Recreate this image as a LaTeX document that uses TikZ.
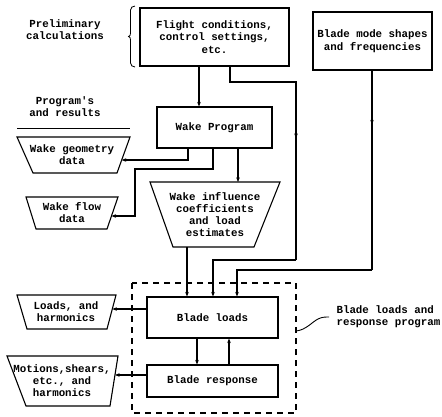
\documentclass[tikz,border=0pt]{standalone}
\usepackage{fontspec}
\setmonofont{Liberation Mono}
\usetikzlibrary{arrows.meta,decorations.markings}
\begin{document}
\begin{tikzpicture}[x=1pt,y=-1pt,line width=1.1pt,
  txt/.style={font=\ttfamily\bfseries\fontsize{10.8}{12}\selectfont,align=center,inner sep=0pt},
  box/.style={draw,rectangle,inner sep=0pt,font=\ttfamily\bfseries\fontsize{10.8}{12.5}\selectfont,align=center},
  arr/.style={-{Stealth[length=4.5pt,width=3.5pt]}},
  midarr/.style={postaction={decorate},decoration={markings,mark=at position #1 with {\arrow{Stealth[length=4.5pt,width=3.5pt]}}}},
  trap/.style={draw,line join=miter}]
\useasboundingbox (0,0) rectangle (442,416);

% boxes
\node[box,minimum width=149pt,minimum height=58pt] (fc) at (214.5,37) {Flight conditions,\\control settings,\\etc.};
\node[box,minimum width=119pt,minimum height=58pt] (bm) at (372.5,41) {Blade mode shapes\\and frequencies};
\node[box,minimum width=115pt,minimum height=41pt] (wp) at (214.5,127.5) {Wake Program};
\node[box,minimum width=131pt,minimum height=41pt] (bl) at (212.5,317.5) {Blade loads};
\node[box,minimum width=131pt,minimum height=32pt] (br) at (212.5,381) {Blade response};

% trapezoids
\draw[trap] (17,137) -- (130,137) -- (117,173) -- (33,173) -- cycle;
\node[txt] (wg) at (72,155) {Wake geometry\\data};
\coordinate (wgR) at (121.7,160);
\draw[trap] (26,197) -- (118,197) -- (107,229) -- (36,229) -- cycle;
\node[txt] (wf) at (72,213) {Wake flow\\data};
\coordinate (wfR) at (111.5,216);
\draw[trap] (150,182) -- (280,182) -- (254,247) -- (173,247) -- cycle;
\node[txt] (wi) at (215,214.5) {Wake influence\\coefficients\\and load\\estimates};
\coordinate (wiT) at (238,182);
\coordinate (wiB) at (187,247);
\draw[trap] (17,295) -- (116,295) -- (107,329) -- (27,329) -- cycle;
\node[txt] (lh) at (66,312) {Loads, and\\harmonics};
\coordinate (lhR) at (112.3,309);
\draw[trap] (7,356) -- (118,356) -- (110,406) -- (26,406) -- cycle;
\node[txt] (mh) at (62,381) {Motions,shears,\\etc., and\\harmonics};
\coordinate (mhR) at (115,375);

% labels
\node[txt] (pre) at (65,30) {Preliminary\\calculations};
\node[txt] (prg) at (65,106.5) {Program's\\and results};
\node[txt,align=left,anchor=west] (blr) at (336,316.5) {Blade loads and\\response program};
\draw[line width=0.9pt] (17,128) -- (130,128);

% bracket
\draw[line width=0.8pt] (135,6) to[out=180,in=90] (130.5,10) -- (130.5,33) to[out=-90,in=0] (128.5,36.5) to[out=0,in=90] (130.5,40) -- (130.5,63) to[out=-90,in=180] (135,67);

% dashed box
\draw[dash pattern=on 6pt off 5pt] (132,283) rectangle (296,413);
\draw[line width=0.9pt] (296,331) .. controls (306,330) and (312,322) .. (318,319) .. controls (322,317) and (325,317) .. (329,317);

% connectors
\draw[arr] ([xshift=-15.5pt]fc.south) -- ([xshift=-15.5pt]wp.north);
\coordinate (a1) at (296,82);
\coordinate (a2) at (296,260);
\draw[midarr=0.53] ([xshift=15.5pt]fc.south) |- (a1) -- (a2);
\draw[arr] (a2) -| ([xshift=0.5pt]bl.north);
\coordinate (b1) at (372,270);
\draw[midarr=0.27] (bm.south -| b1) -- (b1);
\draw[arr] (b1) -| ([xshift=24.5pt]bl.north);
\coordinate (c1) at (188,160);
\draw[arr] (wp.south -| c1) -- (c1) -- (wgR);
\coordinate (d1) at (213,169);
\coordinate (d2) at (135,169);
\draw[arr] (wp.south -| d1) -- (d1) -- (d2) |- (wfR);
\draw[arr] (wp.south -| wiT) -- (wiT);
\draw[arr] (wiB) -- (bl.north -| wiB);
\draw[arr] (bl.west |- lhR) -- (lhR);
\draw[arr] (br.west |- mhR) -- (mhR);
\draw[arr] ([xshift=-15.5pt]bl.south) -- ([xshift=-15.5pt]br.north);
\draw[arr] ([xshift=16.5pt]br.north) -- ([xshift=16.5pt]bl.south);
\end{tikzpicture}
\end{document}
